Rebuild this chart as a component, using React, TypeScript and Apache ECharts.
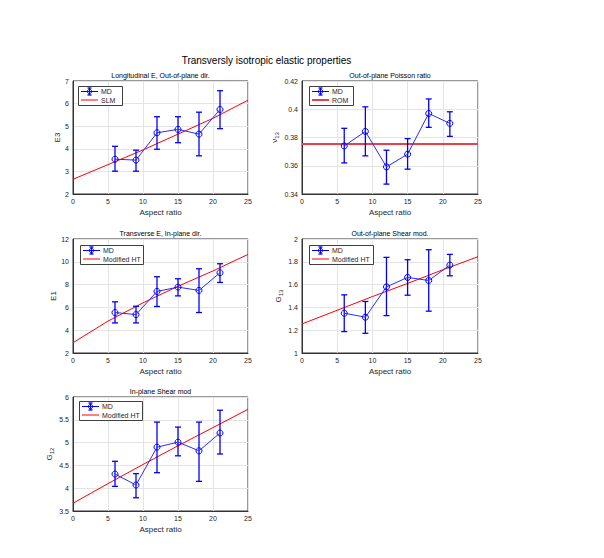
import React, { useEffect, useRef } from 'react';
import * as echarts from 'echarts';

// ---------- data ----------
const aspectRatio = [6, 9, 12, 15, 18, 21];
const modelX = [0, 5, 10, 15, 20, 25];
const romX = [0, 25];
const xTicks = [0, 5, 10, 15, 20, 25];

const e3Mean = [3.54, 3.5, 4.71, 4.86, 4.65, 5.74];
const e3Low = [3.01, 3.01, 3.98, 4.27, 3.69, 4.89];
const e3High = [4.11, 3.94, 5.42, 5.42, 5.62, 6.57];
const e3Slm = [2.65, 3.3, 3.95, 4.65, 5.35, 6.15];

const nu13Mean = [0.374, 0.3843, 0.3592, 0.3682, 0.397, 0.39];
const nu13Low = [0.362, 0.367, 0.347, 0.3576, 0.3872, 0.3808];
const nu13High = [0.3865, 0.4017, 0.371, 0.3792, 0.4073, 0.3982];
const nu13Rom = [0.3754, 0.3754];

const e1Mean = [5.55, 5.37, 7.4, 7.78, 7.49, 9.04];
const e1Low = [4.64, 4.64, 6.08, 7.01, 5.55, 8.19];
const e1High = [6.49, 6.1, 8.69, 8.51, 9.39, 9.83];
const e1Model = [2.9, 4.8, 6.4, 7.85, 9.2, 10.65];

const g13Mean = [1.349, 1.314, 1.58, 1.663, 1.636, 1.771];
const g13Low = [1.188, 1.173, 1.328, 1.507, 1.367, 1.677];
const g13High = [1.51, 1.452, 1.839, 1.818, 1.906, 1.865];
const g13Model = [1.255, 1.375, 1.495, 1.61, 1.73, 1.845];

const g12Mean = [4.31, 4.07, 4.9, 5.01, 4.82, 5.21];
const g12Low = [4.04, 3.79, 4.34, 4.71, 4.15, 4.75];
const g12High = [4.59, 4.32, 5.45, 5.34, 5.45, 5.71];
const g12Model = [3.67, 4.1, 4.52, 4.93, 5.33, 5.73];

const mainTitle = 'Transversly isotropic elastic properties';
const xName = 'Aspect ratio';
const mdName = 'MD';

// ---------- style ----------
const FONT = '"Liberation Sans", Arial, sans-serif';
const BLUE = '#0000ff';
const RED = '#ff0000';
const TXT = '#262626';
const GRIDC = '#e4e4e4';

type Panel = {
  title: string;
  yName: string;
  mean: number[];
  low: number[];
  high: number[];
  mX: number[];
  mY: number[];
  modelName: string;
  modelWidth: number;
  modelColor: string;
  yMin: number;
  yMax: number;
  yInt: number;
  dec: number;
  grid: { left: number; top: number; width: number; height: number };
  legend: { left: number; top: number; width: number };
  nameGap: number;
};

const panels: Panel[] = [
  {
    title: 'Longitudinal E, Out-of-plane dir.', yName: 'E3',
    mean: e3Mean, low: e3Low, high: e3High, mX: modelX, mY: e3Slm,
    modelName: 'SLM', modelWidth: 1, modelColor: RED,
    yMin: 2, yMax: 7, yInt: 1, dec: 0,
    grid: { left: 73, top: 81, width: 175, height: 113 },
    legend: { left: 78, top: 86, width: 44 }, nameGap: 7,
  },
  {
    title: 'Out-of-plane Poisson ratio', yName: '{m|ν}{s|13}',
    mean: nu13Mean, low: nu13Low, high: nu13High, mX: romX, mY: nu13Rom,
    modelName: 'ROM', modelWidth: 2, modelColor: '#e8404a',
    yMin: 0.34, yMax: 0.42, yInt: 0.02, dec: 2,
    grid: { left: 302, top: 81, width: 176, height: 113 },
    legend: { left: 309, top: 86, width: 44 }, nameGap: 20,
  },
  {
    title: 'Transverse E, In-plane dir.', yName: 'E1',
    mean: e1Mean, low: e1Low, high: e1High, mX: modelX, mY: e1Model,
    modelName: 'Modified HT', modelWidth: 1, modelColor: RED,
    yMin: 2, yMax: 12, yInt: 2, dec: 0,
    grid: { left: 73, top: 239, width: 175, height: 114 },
    legend: { left: 80, top: 245, width: 63 }, nameGap: 10,
  },
  {
    title: 'Out-of-plane Shear mod.', yName: '{m|G}{s|13}',
    mean: g13Mean, low: g13Low, high: g13High, mX: modelX, mY: g13Model,
    modelName: 'Modified HT', modelWidth: 1, modelColor: RED,
    yMin: 1, yMax: 2, yInt: 0.2, dec: 1,
    grid: { left: 302, top: 239, width: 176, height: 114 },
    legend: { left: 309, top: 245, width: 64 }, nameGap: 17,
  },
  {
    title: 'In-plane Shear mod', yName: '{m|G}{s|12}',
    mean: g12Mean, low: g12Low, high: g12High, mX: modelX, mY: g12Model,
    modelName: 'Modified HT', modelWidth: 1, modelColor: RED,
    yMin: 3.5, yMax: 6, yInt: 0.5, dec: 1,
    grid: { left: 73, top: 397, width: 175, height: 114 },
    legend: { left: 79, top: 401, width: 63 }, nameGap: 18,
  },
];

function legendGraphic(p: Panel) {
  const { left, top, width } = p.legend;
  const h = 19;
  const r1 = 5.5;
  const r2 = 14;
  const ix0 = 3;
  const ix1 = 20;
  const icx = (ix0 + ix1) / 2;
  const Z = 100;
  const blue = { stroke: BLUE, lineWidth: 1 };
  const blueBar = { stroke: BLUE, lineWidth: 1.3 };
  const txt = (text: string, y: number) => ({
    type: 'text', x: ix1 + 3, y, z: Z + 1,
    style: { text, fontSize: 7, fontFamily: FONT, fill: TXT, align: 'left', verticalAlign: 'middle' },
  });
  return {
    type: 'group', x: left, y: top, z: Z,
    children: [
      { type: 'rect', z: Z, shape: { x: 0.5, y: 0.5, width, height: h }, style: { fill: '#fff', stroke: '#404040', lineWidth: 1 } },
      { type: 'line', z: Z + 1, shape: { x1: ix0, y1: r1, x2: ix1, y2: r1 }, style: blue },
      { type: 'line', z: Z + 1, shape: { x1: icx, y1: r1 - 3.5, x2: icx, y2: r1 + 3.5 }, style: blueBar },
      { type: 'line', z: Z + 1, shape: { x1: icx - 2, y1: r1 - 3.5, x2: icx + 2, y2: r1 - 3.5 }, style: blueBar },
      { type: 'line', z: Z + 1, shape: { x1: icx - 2, y1: r1 + 3.5, x2: icx + 2, y2: r1 + 3.5 }, style: blueBar },
      { type: 'circle', z: Z + 1, shape: { cx: icx, cy: r1, r: 2.2 }, style: { fill: 'none', stroke: BLUE, lineWidth: 1 } },
      txt(mdName, r1),
      { type: 'line', z: Z + 1, shape: { x1: ix0, y1: r2, x2: ix1, y2: r2 }, style: { stroke: p.modelColor, lineWidth: p.modelWidth } },
      txt(p.modelName, r2),
    ],
  };
}

function buildOption() {
  const grid: any[] = [];
  const xAxis: any[] = [];
  const yAxis: any[] = [];
  const series: any[] = [];
  const graphic: any[] = [
    {
      type: 'text', x: 266.5, y: 60,
      style: { text: mainTitle, fontSize: 10, fontFamily: FONT, fill: '#000', align: 'center', verticalAlign: 'middle' },
    },
  ];

  panels.forEach((p, i) => {
    grid.push({
      ...p.grid, show: true, borderColor: '#333', borderWidth: 1, backgroundColor: '#fff', containLabel: false,
    });
    xAxis.push({
      gridIndex: i, type: 'value', min: xTicks[0], max: xTicks[xTicks.length - 1], interval: 5,
      name: xName, nameLocation: 'middle', nameGap: 14,
      nameTextStyle: { fontSize: 8, fontFamily: FONT, color: TXT },
      axisLine: { show: true, lineStyle: { color: '#333', width: 1 } },
      axisTick: { show: false },
      axisLabel: { fontSize: 7, fontFamily: FONT, color: TXT, margin: 4 },
      splitLine: { show: true, lineStyle: { color: GRIDC, width: 1 } },
    });
    yAxis.push({
      gridIndex: i, type: 'value', min: p.yMin, max: p.yMax, interval: p.yInt,
      name: p.yName, nameLocation: 'middle', nameGap: p.nameGap,
      nameTextStyle: {
        fontSize: 8, fontFamily: FONT, color: TXT,
        rich: {
          m: { fontSize: 8, fontFamily: FONT, color: TXT },
          s: { fontSize: 6, fontFamily: FONT, color: TXT, padding: [5, 0, 0, 0] },
        },
      },
      axisLine: { show: true, lineStyle: { color: '#333', width: 1 } },
      axisTick: { show: false },
      axisLabel: {
        fontSize: 7, fontFamily: FONT, color: TXT, margin: 4,
        formatter: (v: number) => String(Number(v.toFixed(p.dec + 1))),
      },
      splitLine: { show: true, lineStyle: { color: GRIDC, width: 1 } },
    });

    series.push({
      name: p.modelName, type: 'line', xAxisIndex: i, yAxisIndex: i,
      data: p.mX.map((x, k) => [x, p.mY[k]]),
      showSymbol: false, symbol: 'none',
      color: p.modelColor,
      lineStyle: { color: p.modelColor, width: p.modelWidth },
      itemStyle: { color: p.modelColor },
      z: 3,
    });
    series.push({
      name: 'MD err', type: 'custom', xAxisIndex: i, yAxisIndex: i,
      data: aspectRatio.map((x, k) => [x, p.low[k], p.high[k]]),
      encode: { x: 0, y: [1, 2] },
      renderItem: (_params: any, api: any) => {
        const x = api.value(0);
        const top = api.coord([x, api.value(2)]);
        const bot = api.coord([x, api.value(1)]);
        const cap = 3;
        const style = { stroke: BLUE, lineWidth: 1.3 };
        return {
          type: 'group',
          children: [
            { type: 'line', shape: { x1: top[0], y1: top[1], x2: bot[0], y2: bot[1] }, style },
            { type: 'line', shape: { x1: top[0] - cap, y1: top[1], x2: top[0] + cap, y2: top[1] }, style },
            { type: 'line', shape: { x1: bot[0] - cap, y1: bot[1], x2: bot[0] + cap, y2: bot[1] }, style },
          ],
        };
      },
      z: 4,
    });
    series.push({
      name: mdName, type: 'line', xAxisIndex: i, yAxisIndex: i,
      data: aspectRatio.map((x, k) => [x, p.mean[k]]),
      symbol: 'circle', symbolSize: 6,
      lineStyle: { color: '#2a2aff', width: 1 },
      itemStyle: { color: 'rgba(0,0,0,0)', borderColor: BLUE, borderWidth: 1 },
      z: 5,
    });

    const cx = p.grid.left + p.grid.width / 2;
    graphic.push({
      type: 'text', x: cx, y: p.grid.top - 6,
      style: { text: p.title, fontSize: 7, fontFamily: FONT, fill: '#000', align: 'center', verticalAlign: 'middle' },
    });
    graphic.push(legendGraphic(p));
  });

  return {
    animation: false,
    backgroundColor: '#fff',
    grid, xAxis, yAxis, series, graphic,
  };
}

export default function App() {
  const ref = useRef<HTMLDivElement>(null);
  useEffect(() => {
    if (!ref.current) return;
    const chart = echarts.init(ref.current, undefined, { renderer: 'svg' });
    chart.setOption(buildOption() as any);
    return () => chart.dispose();
  }, []);
  return (
    <div
      ref={ref}
      style={{ position: 'fixed', left: 0, top: 0, width: 604, height: 558, background: '#fff' }}
    />
  );
}
